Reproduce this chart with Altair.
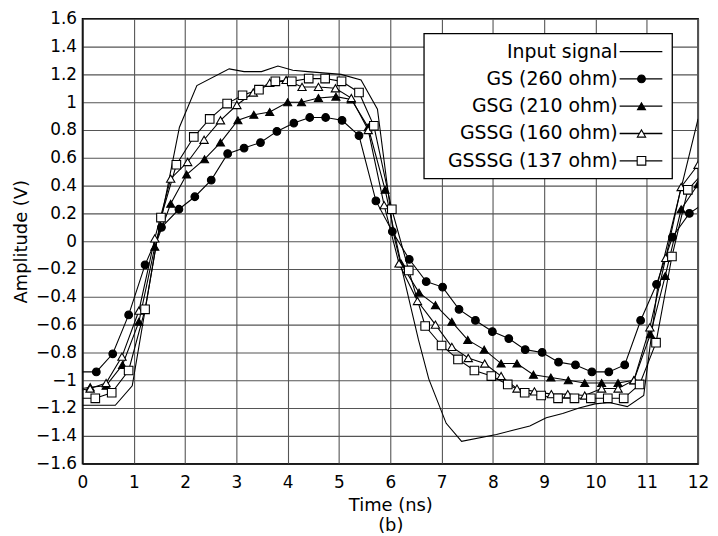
import altair as alt
import pandas as pd

series_names = ["Input signal", "GS (260 ohm)", "GSG (210 ohm)", "GSSG (160 ohm)", "GSSSG (137 ohm)"]

input_t = [0, 0.64, 0.97, 1.45, 1.89, 2.23, 2.86, 3.15, 3.49, 3.81, 4.10, 4.39, 5.04, 5.43, 5.75,
           6.06, 6.55, 6.75, 7.09, 7.39, 8.07, 8.39, 8.72, 9.04, 9.36, 9.68, 9.99, 10.27, 10.62,
           10.94, 11.23, 12.0]
input_v = [-1.18, -1.18, -1.04, 0.0, 0.82, 1.12, 1.24, 1.22, 1.22, 1.26, 1.23, 1.22, 1.20, 1.16, 0.95,
           0.06, -0.71, -0.99, -1.31, -1.44, -1.39, -1.36, -1.33, -1.27, -1.24, -1.20, -1.17, -1.16, -1.19,
           -1.11, -0.28, 0.88]

gs_t = [-0.1, 0.27, 0.59, 0.90, 1.22, 1.54, 1.88, 2.19, 2.51, 2.83, 3.15, 3.47, 3.79, 4.12, 4.43,
        4.74, 5.06, 5.39, 5.72, 6.04, 6.37, 6.70, 7.02, 7.34, 7.66, 7.99, 8.31, 8.63, 8.96, 9.28,
        9.61, 9.93, 10.26, 10.57, 10.88, 11.19, 11.50, 11.83, 12.15]
gs_v = [-0.94, -0.94, -0.81, -0.53, -0.17, 0.10, 0.23, 0.32, 0.44, 0.63, 0.67, 0.71, 0.79, 0.85, 0.89,
        0.89, 0.87, 0.76, 0.29, 0.07, -0.13, -0.29, -0.33, -0.49, -0.57, -0.65, -0.70, -0.78, -0.80, -0.87,
        -0.89, -0.94, -0.94, -0.89, -0.57, -0.31, 0.03, 0.20, 0.28]

gsg_t = [-0.17, 0.15, 0.46, 0.78, 1.10, 1.41, 1.72, 2.03, 2.38, 2.69, 3.03, 3.34, 3.65, 4.00, 4.27,
         4.60, 4.94, 5.24, 5.57, 5.90, 6.21, 6.56, 6.88, 7.20, 7.51, 7.83, 8.16, 8.47, 8.79, 9.13,
         9.47, 9.79, 10.12, 10.44, 10.75, 11.07, 11.36, 11.67, 12.0]
gsg_v = [-1.07, -1.05, -1.04, -0.89, -0.58, -0.04, 0.27, 0.48, 0.59, 0.71, 0.87, 0.91, 0.93, 1.00, 1.00,
         1.03, 1.04, 1.02, 0.82, 0.37, -0.16, -0.37, -0.46, -0.58, -0.71, -0.78, -0.88, -0.88, -0.96, -0.98,
         -1.00, -1.02, -1.02, -1.02, -1.00, -0.67, -0.25, 0.23, 0.41]

gssg_t = [-0.17, 0.15, 0.46, 0.77, 1.10, 1.41, 1.72, 2.05, 2.37, 2.69, 3.01, 3.33, 3.65, 3.97, 4.28,
          4.60, 4.93, 5.24, 5.57, 5.88, 6.17, 6.53, 6.88, 7.20, 7.52, 7.84, 8.16, 8.47, 8.81, 9.14,
          9.46, 9.79, 10.12, 10.44, 10.75, 11.06, 11.37, 11.67, 12.0]
gssg_v = [-1.08, -1.06, -1.02, -0.83, -0.50, 0.02, 0.45, 0.57, 0.73, 0.87, 0.98, 1.07, 1.14, 1.16, 1.11,
          1.11, 1.10, 1.03, 0.80, 0.26, -0.16, -0.43, -0.60, -0.76, -0.84, -0.88, -0.97, -1.06, -1.08, -1.10,
          -1.10, -1.11, -1.06, -1.06, -1.00, -0.62, -0.12, 0.39, 0.55]

gsssg_t = [-0.1, 0.25, 0.57, 0.90, 1.22, 1.53, 1.83, 2.17, 2.48, 2.82, 3.12, 3.44, 3.76, 4.08, 4.41,
           4.73, 5.05, 5.39, 5.68, 6.03, 6.36, 6.68, 7.00, 7.32, 7.64, 7.97, 8.29, 8.62, 8.94, 9.27,
           9.59, 9.91, 10.24, 10.55, 10.86, 11.18, 11.49, 11.80, 12.12]
gsssg_v = [-1.13, -1.13, -1.09, -0.93, -0.49, 0.17, 0.55, 0.75, 0.88, 0.99, 1.05, 1.09, 1.15, 1.15, 1.17,
           1.17, 1.15, 1.07, 0.83, 0.23, -0.21, -0.61, -0.75, -0.85, -0.93, -0.97, -1.03, -1.09, -1.11, -1.13,
           -1.13, -1.13, -1.13, -1.13, -1.03, -0.73, -0.11, 0.37, 0.50]

x_ticks = list(range(0, 13))
y_ticks = [-1.6, -1.4, -1.2, -1.0, -0.8, -0.6, -0.4, -0.2, 0.0, 0.2, 0.4, 0.6, 0.8, 1.0, 1.2, 1.4, 1.6]

marker_series = series_names[1:]
marker_shapes = ["circle", "triangle-up", "triangle-up", "square"]
marker_fills = ["black", "black", "white", "white"]
marker_sizes = [60, 75, 75, 60]

rows = []
for name, ts, vs in zip(series_names,
                        [input_t, gs_t, gsg_t, gssg_t, gsssg_t],
                        [input_v, gs_v, gsg_v, gssg_v, gsssg_v]):
    for t, v in zip(ts, vs):
        rows.append({"series": name, "t": t, "v": v})
df = pd.DataFrame(rows)
legend_df = pd.DataFrame({"series": series_names})

FONT = "DejaVu Sans"

x_enc = alt.X("t:Q", scale=alt.Scale(domain=[0, 12], nice=False, zero=False),
              axis=alt.Axis(values=x_ticks, title=["Time (ns)", "(b)"], format="d",
                            ticks=False, labelPadding=11, titlePadding=6,
                            labelFontSize=17, titleFontSize=18, titleFontWeight="normal",
                            titleLineHeight=20,
                            labelFont=FONT, titleFont=FONT, labelColor="black", titleColor="black",
                            grid=True, gridColor="#555555", gridWidth=1.1,
                            domainColor="black", labelFlush=False))
y_enc = alt.Y("v:Q", scale=alt.Scale(domain=[-1.6, 1.6], nice=False, zero=False),
              axis=alt.Axis(values=y_ticks, title="Amplitude (V)", format=".1~f",
                            ticks=False, labelPadding=6, titlePadding=5,
                            labelFontSize=17, titleFontSize=18, titleFontWeight="normal",
                            labelFont=FONT, titleFont=FONT, labelColor="black", titleColor="black",
                            grid=True, gridColor="#555555", gridWidth=1.1,
                            domainColor="black", labelFlush=False))

shape_enc = alt.Shape("series:N", scale=alt.Scale(domain=marker_series, range=marker_shapes), legend=None)
fill_enc = alt.Fill("series:N", scale=alt.Scale(domain=marker_series, range=marker_fills), legend=None)
size_enc = alt.Size("series:N", scale=alt.Scale(domain=marker_series, range=marker_sizes), legend=None)

base = alt.Chart(df).encode(x=x_enc, y=y_enc, detail="series:N")
lines = base.mark_line(color="black", strokeWidth=1.1, clip=True)
points = base.transform_filter(alt.datum.series != "Input signal").mark_point(
    filled=True, stroke="black", strokeWidth=1.1, opacity=1, clip=True
).encode(shape=shape_enc, fill=fill_enc, size=size_enc)

main = alt.layer(lines, points)

ly = alt.Y("series:N", scale=alt.Scale(type="point", domain=series_names, range=[33, 143], padding=0),
           axis=None)
lg = alt.Chart(legend_df)
box = lg.transform_filter(alt.datum.series == "Input signal").mark_rect(
    fill="white", stroke="black", strokeWidth=1.3
).encode(x=alt.value(344), x2=alt.value(594), y=alt.value(15), y2=alt.value(161))
ltext = lg.mark_text(align="right", baseline="middle", font=FONT, fontSize=19, color="black").encode(
    x=alt.value(539), y=ly, text="series:N")
lrule = lg.mark_rule(color="black", strokeWidth=1.3).encode(
    x=alt.value(541), x2=alt.value(584), y=ly)
lpts = lg.transform_filter(alt.datum.series != "Input signal").mark_point(
    filled=True, stroke="black", strokeWidth=1.1, opacity=1
).encode(x=alt.value(563), y=ly, shape=shape_enc, fill=fill_enc, size=size_enc)
legend = alt.layer(box, ltext, lrule, lpts)

chart = alt.layer(main, legend).resolve_scale(y="independent").properties(
    width=620, height=448,
    autosize=alt.AutoSizeParams(type="none"),
    padding={"left": 75, "top": 9, "right": 12, "bottom": 72},
    background="white",
).configure_view(stroke="black", strokeWidth=1.5)

chart.save("out.html", embed_options={"renderer": "svg", "actions": False})
